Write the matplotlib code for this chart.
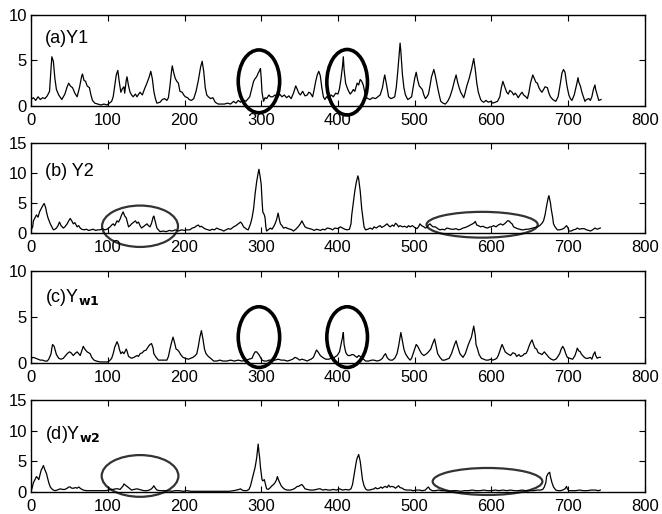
import matplotlib
matplotlib.use('Agg')
import matplotlib.pyplot as plt
from matplotlib.patches import Ellipse

# Data
y1_x = [0, 3, 6, 9, 12, 15, 18, 21, 24, 26, 27, 29, 31, 33, 36, 40,
        44, 47, 49, 51, 54, 57, 60, 63, 66, 67, 69, 71, 73, 76, 78, 80,
        83, 87, 91, 95, 99, 102, 105, 107, 109, 111, 113, 115, 117, 119, 121, 122,
        124, 125, 127, 129, 131, 133, 136, 138, 142, 145, 148, 151, 154, 156, 158, 160,
        162, 164, 168, 171, 174, 177, 179, 181, 183, 184, 186, 188, 190, 192, 194, 197,
        199, 201, 204, 206, 209, 212, 215, 218, 221, 223, 225, 227, 229, 231, 234, 237,
        240, 244, 248, 252, 256, 260, 264, 267, 270, 273, 276, 280, 283, 285, 288, 290,
        292, 294, 296, 298, 299, 300, 301, 303, 305, 307, 310, 312, 315, 318, 321, 324,
        327, 330, 333, 336, 339, 342, 345, 347, 349, 351, 354, 357, 360, 362, 364, 367,
        369, 371, 373, 375, 377, 379, 381, 383, 385, 388, 391, 394, 397, 400, 402, 404,
        406, 407, 408, 410, 412, 414, 416, 418, 420, 422, 424, 425, 427, 429, 431, 433,
        435, 436, 439, 442, 445, 449, 452, 455, 458, 460, 461, 463, 466, 469, 472, 474,
        476, 478, 480, 481, 482, 484, 486, 488, 491, 493, 496, 498, 500, 502, 504, 506,
        508, 510, 512, 514, 516, 518, 520, 522, 525, 527, 530, 532, 534, 537, 540, 543,
        546, 549, 552, 554, 556, 558, 560, 562, 564, 566, 568, 571, 574, 576, 577, 579,
        581, 583, 586, 588, 590, 593, 596, 599, 602, 605, 608, 611, 613, 615, 617, 620,
        622, 624, 627, 629, 631, 633, 635, 638, 640, 642, 645, 647, 649, 651, 654, 656,
        658, 660, 662, 664, 666, 668, 670, 673, 675, 677, 680, 684, 687, 690, 692, 694,
        696, 698, 699, 701, 703, 705, 708, 711, 713, 714, 716, 718, 720, 722, 724, 727,
        729, 731, 733, 735, 736, 738, 740, 743]
y1_v = [0.7, 0.9, 0.6, 1.0, 0.7, 0.9, 0.8, 1.1, 1.6, 4.2, 5.4, 4.9, 3.0, 1.8, 1.2, 0.7,
        1.3, 2.1, 2.5, 2.2, 2.0, 1.4, 1.0, 2.0, 3.3, 3.5, 2.8, 2.7, 2.2, 2.0, 1.2, 0.6,
        0.3, 0.2, 0.1, 0.2, 0.1, 0.3, 0.5, 1.0, 2.2, 3.4, 3.9, 2.6, 1.5, 1.9, 2.1, 1.4,
        2.8, 3.2, 2.2, 1.5, 1.2, 1.0, 1.3, 1.0, 1.5, 1.2, 1.9, 2.5, 3.2, 3.8, 3.0, 1.6,
        0.8, 0.3, 0.4, 0.7, 0.8, 0.6, 0.9, 2.2, 3.8, 4.4, 3.6, 3.0, 2.7, 2.5, 1.6, 1.5,
        1.2, 1.0, 0.9, 0.7, 0.6, 0.8, 1.6, 2.8, 4.3, 4.9, 3.8, 2.0, 1.2, 1.0, 0.8, 0.9,
        0.4, 0.2, 0.2, 0.2, 0.3, 0.2, 0.5, 0.3, 0.6, 0.4, 0.7, 0.5, 0.8, 1.0, 2.0, 2.7,
        3.0, 3.2, 3.6, 3.9, 4.1, 3.0, 1.5, 0.5, 0.9, 0.8, 1.2, 1.0, 1.0, 1.2, 0.9, 1.3,
        1.0, 1.2, 0.9, 1.1, 0.8, 1.4, 2.2, 1.8, 1.4, 1.2, 1.6, 1.1, 1.2, 1.5, 1.4, 1.0,
        1.8, 2.7, 3.4, 3.8, 3.3, 2.0, 1.0, 0.7, 1.0, 0.8, 1.2, 1.0, 1.4, 1.3, 1.9, 3.0,
        4.4, 5.4, 4.0, 2.5, 2.0, 1.6, 1.3, 1.5, 1.8, 1.6, 2.2, 2.5, 2.3, 2.9, 2.7, 2.3,
        1.5, 1.0, 0.8, 0.7, 0.9, 0.8, 1.0, 1.2, 2.0, 3.0, 3.4, 2.5, 1.0, 0.8, 0.9, 1.0,
        2.0, 3.8, 5.8, 6.9, 6.0, 3.5, 2.0, 1.2, 0.7, 0.8, 1.0, 2.0, 3.0, 3.7, 2.8, 2.2,
        2.0, 1.8, 1.2, 0.8, 1.0, 1.3, 2.2, 3.2, 4.0, 3.3, 2.0, 1.2, 0.5, 0.3, 0.2, 0.5,
        1.0, 1.8, 2.8, 3.4, 2.6, 2.0, 1.5, 1.2, 0.9, 1.5, 2.2, 3.0, 4.0, 4.8, 5.2, 4.0,
        2.5, 1.5, 0.7, 0.5, 0.4, 0.6, 0.4, 0.5, 0.3, 0.4, 0.5, 1.0, 2.0, 2.7, 2.2, 1.5,
        1.3, 1.7, 1.5, 1.2, 1.4, 1.2, 0.9, 1.3, 1.5, 1.2, 1.0, 0.8, 1.5, 2.5, 3.4, 3.0,
        2.6, 2.5, 2.0, 1.7, 1.5, 1.8, 2.1, 2.0, 1.4, 1.0, 0.7, 0.5, 1.0, 2.5, 3.6, 4.0,
        3.7, 2.5, 2.0, 1.2, 0.8, 0.6, 1.2, 2.3, 3.1, 2.6, 2.2, 1.5, 1.0, 0.5, 0.7, 0.8,
        0.6, 1.0, 1.8, 2.3, 1.8, 1.2, 0.6, 0.7]

y2_x = [0, 2, 3, 5, 7, 9, 11, 13, 15, 17, 19, 20, 22, 25, 27, 29,
        31, 33, 35, 37, 39, 42, 44, 47, 49, 51, 53, 55, 57, 60, 62, 64,
        66, 69, 72, 75, 78, 81, 84, 87, 90, 93, 96, 99, 101, 103, 105, 107,
        109, 112, 114, 116, 118, 120, 122, 124, 126, 127, 129, 131, 134, 136, 138, 140,
        142, 144, 146, 149, 151, 153, 155, 157, 159, 160, 162, 164, 166, 168, 172, 176,
        180, 184, 188, 192, 196, 200, 203, 207, 210, 213, 216, 218, 220, 222, 225, 228,
        231, 233, 236, 239, 242, 245, 248, 251, 254, 257, 260, 264, 267, 270, 273, 275,
        277, 279, 281, 283, 286, 288, 290, 292, 294, 296, 297, 299, 300, 301, 302, 304,
        305, 306, 307, 309, 312, 314, 316, 318, 320, 322, 324, 325, 327, 329, 332, 335,
        338, 340, 342, 345, 348, 351, 353, 355, 357, 360, 363, 366, 369, 372, 375, 377,
        380, 383, 386, 390, 393, 396, 400, 403, 406, 409, 412, 415, 417, 418, 420, 422,
        424, 426, 427, 429, 431, 433, 434, 436, 439, 442, 445, 447, 450, 452, 455, 457,
        460, 462, 464, 466, 468, 471, 473, 475, 477, 479, 481, 484, 487, 490, 492, 494,
        497, 500, 503, 505, 507, 509, 512, 514, 516, 518, 520, 522, 524, 527, 530, 533,
        536, 539, 542, 545, 548, 551, 554, 557, 560, 563, 566, 568, 571, 574, 577, 579,
        581, 583, 586, 589, 592, 595, 598, 600, 603, 606, 609, 612, 615, 618, 621, 623,
        625, 627, 629, 632, 634, 637, 640, 642, 645, 648, 651, 654, 657, 660, 663, 666,
        668, 670, 672, 674, 675, 677, 678, 680, 681, 683, 686, 689, 692, 695, 698, 700,
        701, 704, 707, 710, 712, 715, 718, 721, 724, 727, 729, 732, 735, 738, 740, 742]
y2_v = [0.5, 1.0, 2.0, 2.5, 3.0, 2.6, 3.5, 4.0, 4.5, 4.9, 4.2, 3.5, 2.5, 1.5, 1.0, 0.5,
        0.6, 0.8, 1.2, 1.8, 1.2, 0.8, 1.0, 1.5, 2.0, 2.4, 2.0, 1.5, 1.7, 1.0, 1.2, 0.8,
        0.6, 0.5, 0.6, 0.4, 0.5, 0.6, 0.4, 0.5, 0.5, 0.7, 0.5, 0.6, 0.8, 1.0, 1.3, 1.5,
        1.2, 2.0, 1.8, 2.3, 3.0, 3.5, 2.8, 2.5, 1.5, 1.0, 1.2, 1.5, 1.8, 2.0, 1.6, 1.8,
        1.2, 0.8, 1.0, 1.3, 1.5, 1.2, 1.0, 1.6, 2.6, 2.8, 1.8, 0.8, 0.5, 0.2, 0.3, 0.2,
        0.4, 0.3, 0.5, 0.3, 0.5, 0.4, 0.5, 0.5, 0.8, 0.9, 1.2, 1.3, 1.0, 1.1, 0.8, 0.6,
        0.5, 0.4, 0.6, 0.5, 0.8, 0.6, 0.5, 0.3, 0.5, 0.7, 0.6, 1.0, 1.2, 1.5, 1.8, 1.5,
        1.0, 0.8, 0.6, 0.5, 1.5, 2.5, 4.0, 6.5, 8.5, 10.0, 10.6, 9.0, 8.0, 5.5, 3.5, 3.0,
        2.5, 1.0, 0.3, 0.5, 0.8, 0.6, 1.0, 1.5, 2.2, 3.3, 2.0, 1.5, 1.2, 0.8, 0.9, 0.7,
        0.6, 0.5, 0.3, 0.6, 1.0, 1.5, 2.0, 1.5, 1.0, 0.8, 0.7, 0.6, 0.4, 0.6, 0.5, 0.4,
        0.6, 0.5, 0.8, 0.7, 0.5, 0.8, 0.7, 1.0, 0.8, 0.6, 0.5, 0.6, 1.5, 3.0, 5.0, 7.0,
        8.5, 9.5, 9.0, 7.0, 4.0, 2.0, 1.0, 0.5, 0.6, 0.8, 0.6, 1.0, 0.8, 1.0, 1.2, 0.9,
        1.1, 1.3, 1.5, 1.2, 1.0, 1.3, 1.1, 1.6, 1.4, 1.0, 1.2, 1.0, 1.1, 0.9, 1.2, 1.0,
        1.2, 0.9, 0.7, 1.0, 1.5, 1.2, 1.0, 0.8, 0.9, 1.3, 1.5, 1.2, 1.0, 1.0, 0.7, 0.5,
        0.6, 0.5, 0.8, 0.7, 0.6, 0.6, 0.7, 0.5, 0.6, 0.8, 0.9, 1.0, 1.2, 1.4, 1.6, 1.9,
        1.3, 1.2, 1.0, 1.1, 0.9, 0.8, 1.0, 1.0, 1.2, 1.0, 1.3, 1.5, 1.3, 1.6, 2.0, 2.0,
        1.7, 1.5, 1.0, 0.8, 0.7, 0.6, 0.5, 0.5, 0.6, 0.6, 0.7, 0.8, 0.9, 1.0, 1.2, 1.6,
        2.0, 3.0, 4.5, 5.8, 6.2, 5.0, 4.0, 2.5, 1.5, 1.0, 0.5, 0.5, 0.6, 0.8, 1.2, 0.8,
        0.3, 0.3, 0.5, 0.6, 0.8, 0.6, 0.7, 0.7, 0.5, 0.4, 0.3, 0.5, 0.8, 0.6, 0.7, 0.8]

yw1_x = [0, 3, 6, 9, 12, 15, 18, 21, 23, 25, 26, 27, 28, 30, 31, 33,
         36, 39, 42, 45, 47, 50, 52, 55, 57, 60, 62, 64, 66, 68, 70, 73,
         75, 77, 79, 82, 85, 90, 95, 100, 103, 105, 107, 109, 111, 112, 114, 115,
         117, 119, 121, 124, 125, 127, 129, 131, 134, 138, 140, 142, 145, 147, 150, 153,
         155, 157, 159, 160, 163, 166, 170, 174, 177, 179, 181, 183, 185, 187, 189, 191,
         193, 195, 198, 201, 205, 208, 211, 214, 216, 218, 220, 222, 224, 226, 228, 231,
         234, 238, 242, 246, 250, 255, 260, 265, 270, 275, 280, 284, 288, 290, 292, 294,
         297, 299, 301, 304, 307, 310, 314, 318, 322, 326, 330, 334, 338, 341, 344, 347,
         350, 353, 357, 360, 362, 365, 368, 370, 372, 374, 377, 380, 384, 388, 391, 394,
         397, 399, 402, 404, 406, 407, 408, 410, 411, 413, 416, 418, 420, 423, 425, 427,
         429, 432, 436, 440, 444, 447, 451, 455, 458, 460, 462, 464, 466, 468, 471, 474,
         477, 479, 481, 482, 484, 486, 488, 491, 494, 496, 498, 500, 502, 504, 507, 509,
         512, 514, 517, 519, 521, 523, 526, 528, 530, 533, 536, 539, 542, 545, 548, 550,
         552, 554, 556, 559, 561, 563, 566, 568, 570, 572, 574, 576, 577, 579, 580, 582,
         584, 587, 590, 593, 596, 599, 602, 605, 607, 609, 611, 613, 614, 616, 618, 621,
         623, 625, 628, 631, 633, 636, 638, 641, 643, 645, 647, 649, 651, 653, 655, 657,
         659, 661, 664, 666, 669, 671, 673, 675, 678, 681, 684, 686, 689, 691, 693, 695,
         697, 699, 702, 706, 709, 711, 712, 714, 716, 717, 720, 723, 726, 729, 731, 733,
         735, 736, 738, 740, 742]
yw1_v = [0.5, 0.6, 0.5, 0.4, 0.3, 0.3, 0.2, 0.2, 0.4, 0.8, 1.0, 1.6, 2.0, 1.8, 1.5, 0.9,
         0.5, 0.4, 0.5, 0.8, 1.0, 1.2, 1.1, 0.8, 1.0, 1.2, 1.0, 0.8, 1.3, 1.8, 1.5, 1.2,
         1.1, 1.0, 0.6, 0.3, 0.2, 0.1, 0.1, 0.1, 0.3, 0.5, 1.0, 1.7, 2.1, 2.3, 1.9, 1.5,
         1.0, 1.2, 1.0, 1.5, 1.3, 0.7, 0.6, 0.5, 0.6, 0.8, 0.7, 1.0, 1.1, 1.3, 1.4, 1.8,
         2.0, 2.1, 1.6, 1.0, 0.6, 0.3, 0.3, 0.3, 0.3, 0.7, 1.5, 2.2, 2.8, 2.2, 1.5, 1.4,
         1.2, 0.9, 0.6, 0.5, 0.4, 0.5, 0.6, 0.8, 1.0, 1.8, 2.8, 3.5, 2.6, 1.5, 1.0, 0.7,
         0.5, 0.2, 0.2, 0.3, 0.2, 0.2, 0.3, 0.2, 0.3, 0.2, 0.3, 0.4, 0.5, 0.9, 1.2, 1.2,
         0.9, 0.6, 0.3, 0.2, 0.2, 0.3, 0.3, 0.3, 0.4, 0.3, 0.3, 0.2, 0.3, 0.4, 0.6, 0.5,
         0.3, 0.4, 0.3, 0.2, 0.3, 0.4, 0.6, 1.0, 1.4, 1.2, 0.8, 0.6, 0.4, 0.4, 0.5, 0.5,
         0.7, 0.8, 1.2, 2.0, 2.8, 3.3, 2.0, 1.2, 1.0, 0.8, 0.8, 0.9, 0.9, 0.7, 0.6, 0.8,
         0.7, 0.5, 0.2, 0.2, 0.3, 0.3, 0.2, 0.3, 0.5, 0.8, 1.0, 0.6, 0.4, 0.3, 0.3, 0.5,
         1.0, 1.8, 2.8, 3.3, 2.4, 1.5, 1.0, 0.6, 0.3, 0.5, 1.0, 1.5, 2.0, 1.8, 1.3, 1.0,
         0.8, 0.9, 1.1, 1.3, 1.5, 2.0, 2.6, 1.8, 1.0, 0.6, 0.3, 0.3, 0.4, 0.5, 1.0, 1.5,
         2.0, 2.4, 1.8, 1.0, 0.8, 0.6, 1.0, 1.5, 2.0, 2.4, 2.8, 3.6, 4.0, 3.0, 2.0, 1.5,
         0.9, 0.5, 0.4, 0.3, 0.3, 0.4, 0.3, 0.4, 0.5, 0.8, 1.3, 1.8, 2.0, 1.6, 1.2, 1.0,
         0.9, 0.8, 1.1, 1.0, 0.7, 0.9, 0.7, 0.8, 1.0, 1.0, 1.3, 1.8, 2.2, 2.5, 2.0, 1.6,
         1.5, 1.1, 1.0, 0.9, 1.2, 1.0, 0.8, 0.6, 0.4, 0.3, 0.4, 0.6, 1.0, 1.5, 1.8, 1.5,
         1.0, 0.6, 0.5, 0.4, 0.8, 1.3, 1.6, 1.3, 1.2, 1.0, 0.7, 0.5, 0.5, 0.6, 0.4, 0.9,
         1.2, 0.8, 0.5, 0.6, 0.6]

yw2_x = [0, 1, 3, 5, 7, 9, 10, 12, 13, 15, 16, 18, 20, 22, 23, 25,
         27, 29, 31, 34, 38, 41, 44, 47, 49, 51, 53, 55, 58, 60, 62, 65,
         68, 72, 77, 82, 87, 92, 97, 101, 104, 107, 110, 113, 116, 118, 120, 121,
         123, 126, 128, 131, 134, 138, 141, 144, 147, 151, 154, 157, 159, 160, 162, 164,
         168, 173, 178, 183, 188, 193, 198, 203, 208, 213, 220, 230, 240, 250, 258, 264,
         268, 271, 273, 275, 278, 281, 284, 286, 288, 290, 292, 294, 296, 297, 298, 299,
         301, 302, 304, 305, 306, 307, 309, 311, 314, 316, 318, 320, 321, 323, 326, 328,
         331, 334, 338, 341, 344, 347, 349, 351, 353, 355, 357, 360, 364, 368, 372, 375,
         377, 380, 384, 387, 390, 394, 398, 402, 406, 410, 414, 417, 419, 420, 422, 424,
         425, 427, 429, 430, 432, 434, 436, 438, 441, 444, 447, 449, 451, 454, 456, 458,
         460, 462, 464, 466, 468, 470, 473, 475, 477, 479, 481, 484, 486, 489, 492, 495,
         498, 502, 506, 510, 514, 516, 518, 520, 523, 527, 531, 535, 540, 545, 550, 555,
         560, 565, 570, 575, 580, 585, 590, 595, 600, 605, 610, 615, 620, 625, 630, 635,
         640, 645, 650, 655, 660, 664, 667, 669, 671, 672, 674, 676, 677, 679, 681, 684,
         687, 690, 693, 696, 698, 699, 701, 705, 710, 715, 720, 725, 730, 735, 740, 742]
yw2_v = [0.3, 0.5, 1.5, 2.0, 2.5, 2.2, 2.0, 3.0, 3.5, 4.0, 4.3, 3.6, 3.0, 2.0, 1.5, 0.8,
         0.5, 0.3, 0.2, 0.3, 0.5, 0.4, 0.4, 0.6, 0.8, 0.8, 0.6, 0.6, 0.7, 0.6, 0.8, 0.5,
         0.3, 0.2, 0.2, 0.2, 0.2, 0.2, 0.2, 0.3, 0.4, 0.4, 0.5, 0.5, 0.4, 0.7, 1.0, 1.3,
         1.1, 0.8, 0.6, 0.3, 0.4, 0.5, 0.4, 0.3, 0.2, 0.2, 0.3, 0.5, 0.8, 1.0, 0.6, 0.3,
         0.2, 0.2, 0.2, 0.1, 0.2, 0.2, 0.1, 0.2, 0.1, 0.1, 0.1, 0.1, 0.1, 0.1, 0.1, 0.2,
         0.3, 0.4, 0.5, 0.3, 0.2, 0.2, 0.4, 1.0, 2.0, 3.0, 4.0, 5.5, 7.8, 6.5, 5.5, 4.0,
         2.0, 1.8, 2.0, 1.5, 1.0, 0.5, 0.4, 0.6, 1.0, 1.2, 1.5, 2.0, 2.5, 1.8, 1.0, 0.7,
         0.4, 0.3, 0.3, 0.4, 0.6, 0.9, 0.9, 1.1, 1.2, 0.9, 0.5, 0.4, 0.3, 0.3, 0.4, 0.5,
         0.5, 0.3, 0.4, 0.3, 0.3, 0.4, 0.3, 0.5, 0.3, 0.4, 0.3, 0.5, 1.2, 2.0, 3.5, 5.0,
         5.5, 6.1, 5.0, 4.0, 2.0, 1.0, 0.5, 0.3, 0.3, 0.4, 0.5, 0.7, 0.5, 0.6, 0.8, 0.6,
         0.8, 0.9, 0.7, 1.1, 0.8, 0.9, 0.8, 0.6, 0.8, 1.0, 0.7, 0.6, 0.4, 0.3, 0.3, 0.3,
         0.2, 0.3, 0.3, 0.2, 0.3, 0.6, 0.8, 0.4, 0.2, 0.2, 0.3, 0.2, 0.2, 0.1, 0.2, 0.2,
         0.1, 0.2, 0.2, 0.3, 0.2, 0.2, 0.3, 0.2, 0.2, 0.3, 0.2, 0.3, 0.2, 0.3, 0.2, 0.2,
         0.3, 0.2, 0.2, 0.2, 0.3, 0.3, 0.4, 0.8, 1.5, 2.5, 3.0, 3.2, 2.5, 1.5, 0.8, 0.3,
         0.2, 0.2, 0.3, 0.5, 0.9, 0.5, 0.2, 0.2, 0.2, 0.3, 0.2, 0.2, 0.3, 0.3, 0.2, 0.3]

labels = ['(a)Y1', '(b) Y2', '(c)Y$_{\\mathbf{w1}}$', '(d)Y$_{\\mathbf{w2}}$']
ymax = [10, 15, 10, 15]
xticks = [0, 100, 200, 300, 400, 500, 600, 700, 800]

# ellipse marks: (x centre, y centre, width, height)
ell_a = [(297, 2.7, 54, 6.9), (412, 2.6, 53, 7.2)]
ell_b = [(142, 1.1, 99, 6.9), (588, 1.35, 145, 4.3)]
ell_c = [(297, 2.8, 54, 6.6), (412, 2.8, 53, 6.6)]
ell_d = [(142, 2.6, 100, 6.8), (595, 1.7, 143, 4.4)]

plt.rcParams['font.family'] = ['Liberation Sans', 'DejaVu Sans']
plt.rcParams['mathtext.default'] = 'regular'

fig = plt.figure(figsize=(6.62, 5.14), dpi=100)
boxes = [[0.047, 0.794, 0.927, 0.177],
         [0.047, 0.547, 0.927, 0.175],
         [0.047, 0.294, 0.927, 0.179],
         [0.047, 0.043, 0.927, 0.179]]
series = [(y1_x, y1_v), (y2_x, y2_v), (yw1_x, yw1_v), (yw2_x, yw2_v)]
ells = [(ell_a, 2.6, 'black'), (ell_b, 1.6, '#333333'),
        (ell_c, 2.6, 'black'), (ell_d, 1.6, '#333333')]

for i in range(4):
    ax = fig.add_axes(boxes[i])
    xs, ys = series[i]
    ax.plot(xs, ys, color='black', lw=0.9)
    ax.set_xlim(0, 800)
    ax.set_ylim(0, ymax[i])
    ax.set_xticks(xticks)
    ax.set_yticks(list(range(0, ymax[i] + 1, 5)))
    ax.tick_params(direction='in', top=True, right=True, length=4,
                   labelsize=12)
    ax.tick_params(axis='x', pad=5)
    ax.tick_params(axis='y', pad=3)
    for s in ax.spines.values():
        s.set_linewidth(1.0)
    ax.text(0.023, [0.74, 0.68, 0.71, 0.62][i], labels[i],
            transform=ax.transAxes, fontsize=13, va='center', ha='left')
    el_list, lw, col = ells[i]
    for cx, cy, w, h in el_list:
        ax.add_patch(Ellipse((cx, cy), w, h, fill=False, lw=lw,
                             edgecolor=col, clip_on=False))

plt.savefig('out.png', dpi=100)
